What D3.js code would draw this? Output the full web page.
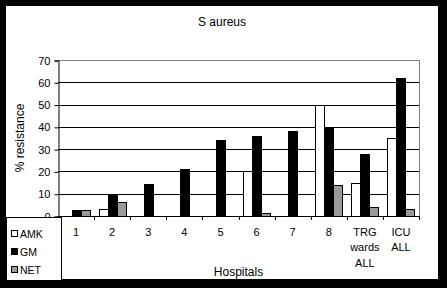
<!DOCTYPE html>
<html>
<head>
<meta charset="utf-8">
<style>
  body { margin: 0; background: #000; }
  svg { display: block; font-family: "Liberation Sans", Arial, sans-serif; }
</style>
<script src="https://d3js.org/d3.v7.min.js"></script>
</head>
<body>
<div id="chart"></div>
<script>
// data
var hospitals = [["1"], ["2"], ["3"], ["4"], ["5"], ["6"], ["7"], ["8"], ["TRG", "wards", "ALL"], ["ICU", "ALL"]];
var seriesNames = ["AMK", "GM", "NET"];
var amk = [0, 3, 0, 0, 0, 20, 0, 50, 15, 35];
var gm = [2.7, 10, 14.5, 21, 34, 36, 38, 40, 28, 62];
var net = [2.7, 6.3, 0, 0, 0, 1.3, 0, 14, 4, 3];
var yTicks = [0, 10, 20, 30, 40, 50, 60, 70];
var colors = ["#ffffff", "#000000", "#999999"];

var W = 447, H = 288;
var plot = { left: 58, right: 419, top: 60, bottom: 216 };

var svg = d3.select("#chart").append("svg")
    .attr("width", W)
    .attr("height", H);

// white chart area inside the black frame
svg.append("rect")
    .attr("x", 6).attr("y", 6)
    .attr("width", 432).attr("height", 273)
    .attr("fill", "#fff");

var x = d3.scaleBand()
    .domain(d3.range(hospitals.length))
    .range([plot.left, plot.right])
    .padding(0);

var xs = d3.scaleBand()
    .domain(d3.range(seriesNames.length))
    .range([0, x.bandwidth()])
    .paddingInner(0)
    .paddingOuter(0.5);

var y = d3.scaleLinear()
    .domain([0, 70])
    .range([plot.bottom, plot.top]);

// gridlines
svg.append("g")
    .selectAll("line")
    .data(yTicks.filter(function (d) { return d > 0 && d < 70; }))
    .enter().append("line")
    .attr("x1", plot.left).attr("x2", plot.right)
    .attr("y1", function (d) { return Math.round(y(d)) + 0.5; })
    .attr("y2", function (d) { return Math.round(y(d)) + 0.5; })
    .attr("stroke", "#000");

// grey top/right border of plot area
svg.append("path")
    .attr("d", "M" + plot.left + "," + (plot.top + 0.5) + "H" + (plot.right + 0.5) + "V" + plot.bottom)
    .attr("fill", "none")
    .attr("stroke", "#808080");

// bars
var series = [amk, gm, net];
series.forEach(function (vals, s) {
    var pts = vals.map(function (v, i) { return { i: i, v: v }; })
        .filter(function (d) { return d.v > 0; });
    svg.append("g")
        .selectAll("rect")
        .data(pts)
        .enter().append("rect")
        .attr("x", function (d) { return Math.round(x(d.i) + xs(s)) + 0.5; })
        .attr("y", function (d) { return Math.round(y(d.v)) + 0.5; })
        .attr("width", Math.round(xs.bandwidth()))
        .attr("height", function (d) { return plot.bottom - Math.round(y(d.v)); })
        .attr("fill", colors[s])
        .attr("stroke", "#000");
});

// y axis
var yAxis = d3.axisLeft(y).tickValues(yTicks).tickSize(4).tickFormat(d3.format("d"));
var gy = svg.append("g")
    .attr("transform", "translate(" + (plot.left + 0.5) + ",0.5)")
    .call(yAxis);
gy.select(".domain").attr("stroke", "#000");
gy.selectAll("text").attr("font-size", 11).attr("fill", "#000")
    .attr("font-family", "Liberation Sans, Arial, sans-serif").attr("dx", "-1");

// x axis line and ticks at category boundaries
svg.append("line")
    .attr("x1", plot.left).attr("x2", plot.right + 1)
    .attr("y1", plot.bottom + 0.5).attr("y2", plot.bottom + 0.5)
    .attr("stroke", "#000");
svg.append("g")
    .selectAll("line")
    .data(d3.range(hospitals.length + 1))
    .enter().append("line")
    .attr("x1", function (i) { return Math.round(plot.left + i * x.step()) + 0.5; })
    .attr("x2", function (i) { return Math.round(plot.left + i * x.step()) + 0.5; })
    .attr("y1", plot.bottom).attr("y2", plot.bottom + 4)
    .attr("stroke", "#000");

// category labels
var xl = svg.append("g")
    .selectAll("text")
    .data(hospitals)
    .enter().append("text")
    .attr("x", function (d, i) { return x(i) + x.bandwidth() / 2; })
    .attr("y", 236)
    .attr("text-anchor", "middle")
    .attr("font-size", 11);
xl.selectAll("tspan")
    .data(function (d) { return d; })
    .enter().append("tspan")
    .attr("x", function () { return this.parentNode.getAttribute("x"); })
    .attr("dy", function (d, j) { return j === 0 ? 0 : 15.3; })
    .text(function (d) { return d; });

// titles
svg.append("text")
    .attr("x", 222).attr("y", 26)
    .attr("text-anchor", "middle")
    .attr("font-size", 12)
    .text("S aureus");

svg.append("text")
    .attr("x", (plot.left + plot.right) / 2).attr("y", 276)
    .attr("text-anchor", "middle")
    .attr("font-size", 12)
    .text("Hospitals");

svg.append("text")
    .attr("transform", "translate(24," + (plot.top + plot.bottom) / 2 + ") rotate(-90)")
    .attr("text-anchor", "middle")
    .attr("font-size", 12)
    .text("% resistance");

// legend
var lg = svg.append("g");
lg.append("rect")
    .attr("x", 6.5).attr("y", 217.5)
    .attr("width", 55).attr("height", 63)
    .attr("fill", "#fff")
    .attr("stroke", "#000");
var items = lg.selectAll("g.item")
    .data(seriesNames)
    .enter().append("g")
    .attr("class", "item")
    .attr("transform", function (d, i) { return "translate(0," + (234 + i * 18) + ")"; });
items.append("rect")
    .attr("x", 11.5).attr("y", -3.5)
    .attr("width", 6).attr("height", 6)
    .attr("fill", function (d, i) { return colors[i]; })
    .attr("stroke", "#000");
items.append("text")
    .attr("x", 20).attr("y", 4)
    .attr("font-size", 10.5)
    .text(function (d) { return d; });
</script>
</body>
</html>
